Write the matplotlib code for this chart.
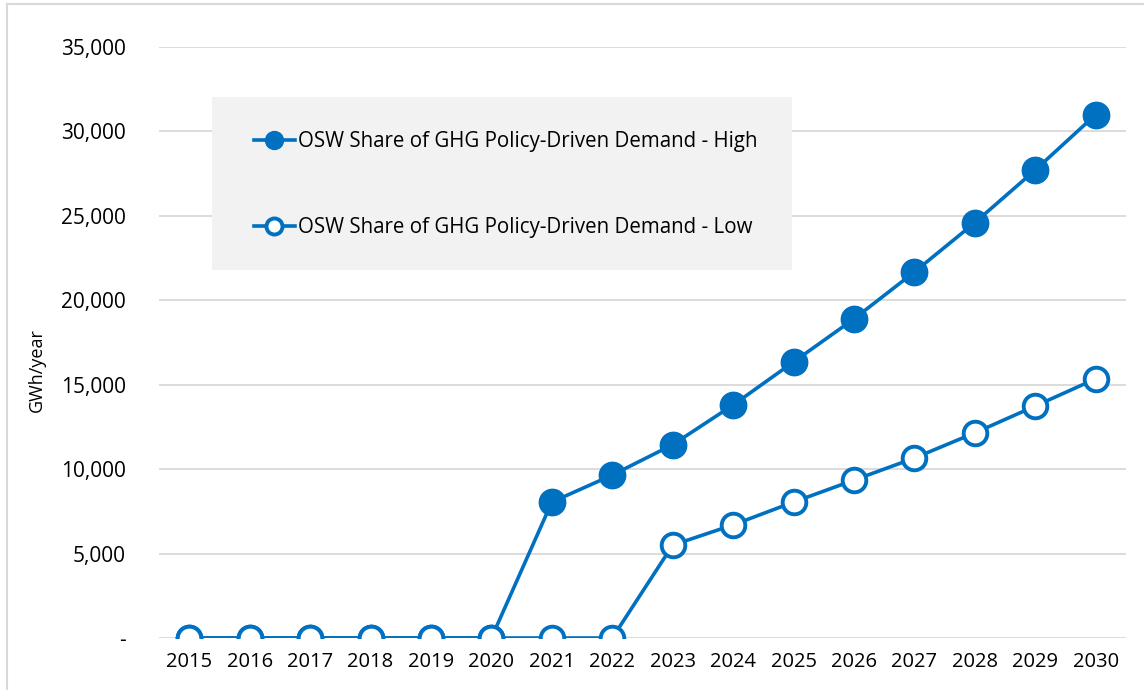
import numpy as np
import matplotlib.pyplot as plt
from matplotlib.patches import Rectangle
from matplotlib.ticker import FuncFormatter

years = list(range(2015, 2031))
high = [0, 0, 0, 0, 0, 0, 8050, 9650, 11450, 13800, 16350, 18900, 21680, 24600, 27720, 31000]
low = [0, 0, 0, 0, 0, 0, 0, 0, 5500, 6700, 8050, 9350, 10660, 12150, 13740, 15350]
label_high = "OSW Share of GHG Policy-Driven Demand - High"
label_low = "OSW Share of GHG Policy-Driven Demand - Low"

blue = "#0070c0"
plt.rcParams['font.family'] = ['Open Sans', 'DejaVu Sans']

fig = plt.figure(figsize=(11.44, 6.9), dpi=100)
ax = fig.add_axes([159/1144, 1 - 638/690, (1126 - 159)/1144, (638 - 47)/690])

x = np.arange(len(years))
ax.plot(x, high, color=blue, lw=2.6, marker='o', ms=19, mfc=blue, mec=blue, zorder=3, label=label_high)
ax.plot(x, low, color=blue, lw=2.6, marker='o', ms=17, mfc='white', mec=blue, mew=2.8, zorder=4, label=label_low)

ax.set_xlim(-0.5, len(years) - 0.5)
ax.set_ylim(0, 35000)
ax.set_yticks(np.arange(0, 35001, 5000))
ax.yaxis.set_major_formatter(FuncFormatter(lambda v, p: '-' if v == 0 else f'{int(v):,}'))
ax.set_xticks(x)
ax.set_xticklabels([str(y) for y in years])
ax.grid(axis='y', color='#d9d9d9', lw=1.3, zorder=0)
ax.set_axisbelow(True)
for s in ax.spines.values():
    s.set_visible(False)
ax.tick_params(axis='y', length=0, pad=24, labelsize=15)
ax.tick_params(axis='x', length=0, pad=10, labelsize=14.5)
fig.text(37/1144, 1 - 370/690, 'GWh/year', rotation=90, ha='center', va='center', fontsize=13)

# legend box (grey panel behind legend entries)
ax.add_patch(Rectangle((212/1144, 1 - 270/690), (792 - 212)/1144, (270 - 97)/690,
                       transform=fig.transFigure, facecolor='#f2f2f2', edgecolor='none',
                       zorder=5, clip_on=False))
leg = ax.legend(loc='upper left', bbox_to_anchor=(235/1144, 1 - 113/690), bbox_transform=fig.transFigure,
                frameon=False, fontsize=14.8, markerscale=0.68, handlelength=2.0, handletextpad=0.15,
                labelspacing=3.15)
leg.set_zorder(6)

# figure border
fig.add_artist(plt.Line2D([7/1144, 7/1144], [0, 1 - 4/690], transform=fig.transFigure, color='#d9d9d9', lw=1.5))
fig.add_artist(plt.Line2D([7/1144, 1], [1 - 4/690, 1 - 4/690], transform=fig.transFigure, color='#d9d9d9', lw=1.5))

fig.savefig('out.png', dpi=100)
